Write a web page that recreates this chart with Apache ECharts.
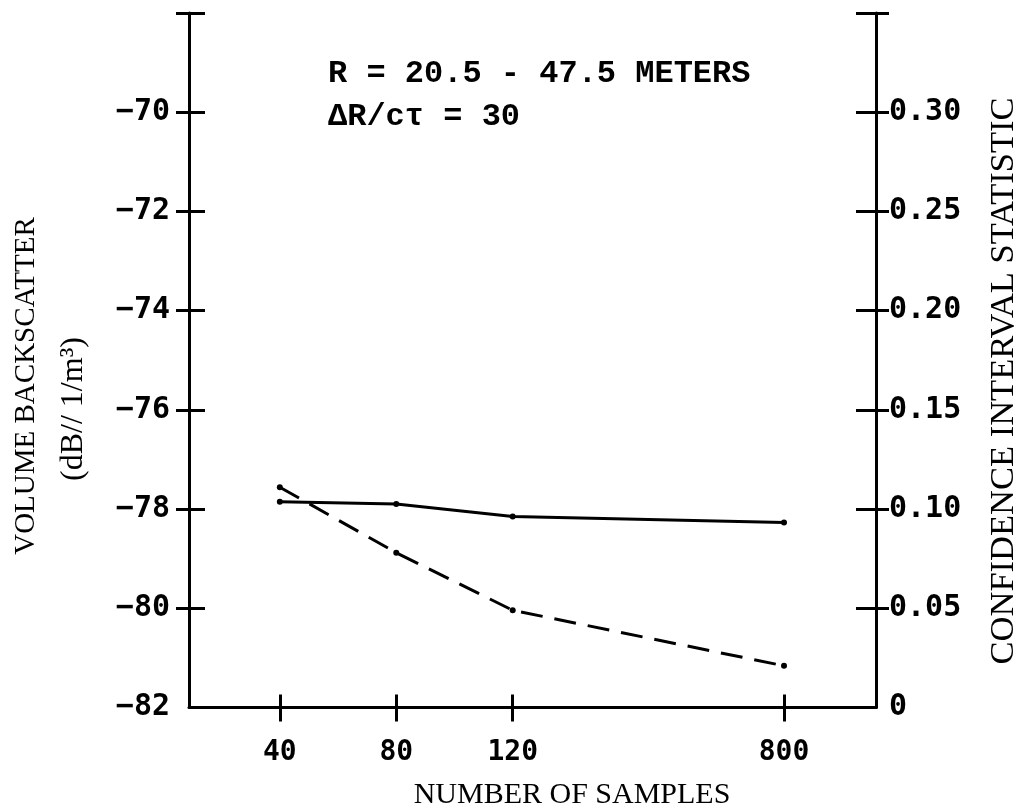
<!DOCTYPE html>
<html>
<head>
<meta charset="utf-8">
<script src="https://cdn.jsdelivr.net/npm/echarts@6/dist/echarts.min.js"></script>
<style>
html,body{margin:0;padding:0;background:#fff;}
#c{width:1027px;height:810px;}
</style>
</head>
<body>
<div id="c"></div>
<script>
// ---- data ----
const sampleLabels = ['40', '80', '120', '800'];
// nominal plotting positions of the sample-count categories along the x axis
const samplePos = [1, 2, 3, 5.33];
const backscatter = [-77.85, -77.9, -78.15, -78.27];   // dB // 1/m^3 (solid, left axis)
const confidence = [0.111, 0.078, 0.049, 0.021];       // CI statistic (dashed, right axis)
const leftLabelVals = [-82, -80, -78, -76, -74, -72, -70];
const leftTickVals = [-80, -78, -76, -74, -72, -70, -68];
const rightLabelVals = [0, 0.05, 0.10, 0.15, 0.20, 0.25, 0.30];
const rightTickVals = [0.05, 0.10, 0.15, 0.20, 0.25, 0.30, 0.35];

const INK = '#000';
const monoLab = {fontFamily: 'DejaVu Sans Mono', fontSize: 30, color: INK, fontWeight: 'bold'};

function axisCommon(extra) {
  return Object.assign({
    splitLine: {show: false},
    axisLine: {show: true, lineStyle: {color: INK, width: 3}},
  }, extra);
}

const chart = echarts.init(document.getElementById('c'), null, {renderer: 'canvas'});
chart.setOption({
  backgroundColor: '#fff',
  animation: false,
  grid: {left: 189, right: 151, top: 13, bottom: 102.5, containLabel: false},
  xAxis: [
    axisCommon({
      type: 'value', min: 0.22, max: 6.12, position: 'bottom',
      axisTick: {show: true, inside: false, length: 14, customValues: samplePos, lineStyle: {color: INK, width: 3}},
      axisLabel: {show: true, customValues: samplePos, margin: 31,
        fontFamily: 'DejaVu Sans Mono', fontSize: 28, fontWeight: 'bold', color: INK,
        formatter: v => { const i = samplePos.indexOf(v); return i >= 0 ? sampleLabels[i] : ''; }}
    }),
    axisCommon({
      type: 'value', min: 0.22, max: 6.12, position: 'bottom', axisLine: {show: false},
      axisTick: {show: true, inside: true, length: 13, customValues: samplePos, lineStyle: {color: INK, width: 3}},
      axisLabel: {show: false}
    })
  ],
  yAxis: [
    axisCommon({
      type: 'value', min: -82, max: -68, interval: 2, position: 'left',
      axisTick: {show: true, inside: false, length: 13, customValues: leftTickVals, lineStyle: {color: INK, width: 3}},
      axisLabel: Object.assign({show: true, customValues: leftLabelVals, margin: 19,
        formatter: v => String(v).replace('-', '\u2212')}, monoLab)
    }),
    axisCommon({
      type: 'value', min: -82, max: -68, interval: 2, position: 'left', axisLine: {show: false},
      axisTick: {show: true, inside: true, length: 16, customValues: leftTickVals, lineStyle: {color: INK, width: 3}},
      axisLabel: {show: false}
    }),
    axisCommon({
      type: 'value', min: 0, max: 0.35, interval: 0.05, position: 'right',
      axisTick: {show: true, inside: true, length: 20, customValues: rightTickVals, lineStyle: {color: INK, width: 3}},
      axisLabel: Object.assign({show: true, customValues: rightLabelVals, margin: 13,
        formatter: v => v === 0 ? '0' : v.toFixed(2)}, monoLab)
    }),
    axisCommon({
      type: 'value', min: 0, max: 0.35, interval: 0.05, position: 'right', axisLine: {show: false},
      axisTick: {show: true, inside: false, length: 13, customValues: rightTickVals, lineStyle: {color: INK, width: 3}},
      axisLabel: {show: false}
    })
  ],
  series: [
    {
      type: 'line', xAxisIndex: 0, yAxisIndex: 0,
      data: samplePos.map((p, i) => [p, backscatter[i]]),
      symbol: 'circle', symbolSize: 6, showSymbol: true,
      itemStyle: {color: INK},
      lineStyle: {color: INK, width: 3, type: 'solid'}
    },
    {
      type: 'line', xAxisIndex: 0, yAxisIndex: 2,
      data: samplePos.map((p, i) => [p, confidence[i]]),
      symbol: 'circle', symbolSize: 6, showSymbol: true,
      itemStyle: {color: INK},
      lineStyle: {color: INK, width: 3, type: [22, 12]}
    }
  ],
  graphic: [
    {type: 'text', left: 328, top: 58, style: {text: 'R = 20.5 - 47.5 METERS', fontFamily: 'Liberation Mono', fontWeight: 'bold', fontSize: 32, fill: INK}},
    {type: 'text', left: 328, top: 101, style: {text: '\u0394R/c\u03C4 = 30', fontFamily: 'Liberation Mono', fontWeight: 'bold', fontSize: 32, fill: INK}},
    {type: 'text', x: 26, y: 386, rotation: Math.PI / 2,
      style: {text: 'VOLUME BACKSCATTER', fontFamily: 'Liberation Serif', fontSize: 29, fill: INK, align: 'center', verticalAlign: 'middle'}},
    {type: 'text', x: 74, y: 409, rotation: Math.PI / 2,
      style: {text: '(dB// 1/m\u00B3)', fontFamily: 'Liberation Serif', fontSize: 32, fill: INK, align: 'center', verticalAlign: 'middle'}},
    {type: 'text', x: 1004, y: 381, rotation: Math.PI / 2,
      style: {text: 'CONFIDENCE INTERVAL STATISTIC', fontFamily: 'Liberation Serif', fontSize: 34.5, fill: INK, align: 'center', verticalAlign: 'middle'}},
    {type: 'text', x: 572, y: 795,
      style: {text: 'NUMBER OF SAMPLES', fontFamily: 'Liberation Serif', fontSize: 30, fill: INK, align: 'center', verticalAlign: 'middle'}}
  ]
});
</script>
</body>
</html>
